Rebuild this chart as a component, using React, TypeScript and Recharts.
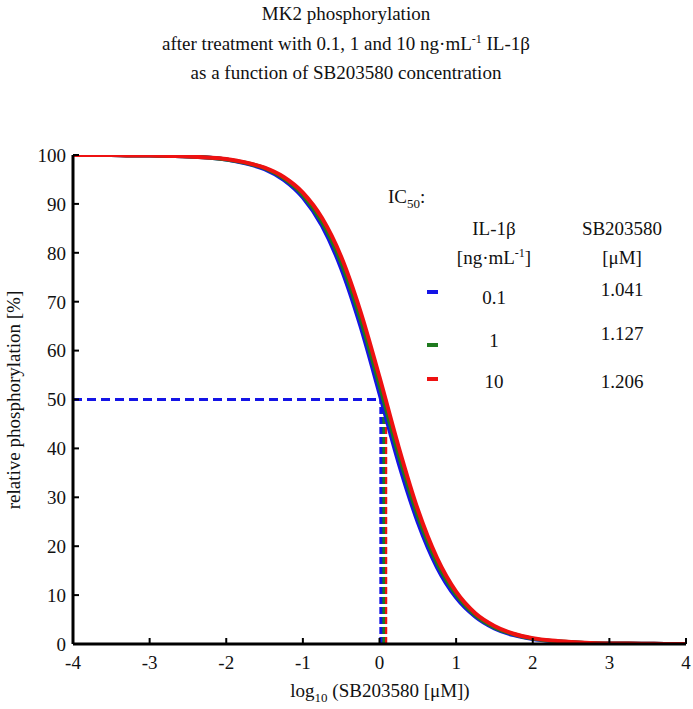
import React from 'react';
import { LineChart, Line, XAxis, YAxis } from 'recharts';

// ---- data ----
const logConc = [-4, -3.75, -3.5, -3.25, -3, -2.75, -2.5, -2.25, -2, -1.75, -1.5, -1.25, -1, -0.75, -0.5, -0.25, 0, 0.25, 0.5, 0.75, 1, 1.25, 1.5, 1.75, 2, 2.25, 2.5, 2.75, 3, 3.25, 3.5, 3.75, 4];
const phosBlue = [100, 100, 100, 99.9, 99.9, 99.8, 99.7, 99.5, 99.1, 98.3, 97.1, 94.9, 91.3, 85.5, 76.8, 65.1, 51.2, 37.0, 24.9, 15.7, 9.5, 5.6, 3.2, 1.8, 1.0, 0.6, 0.3, 0.2, 0.1, 0.1, 0.05, 0, 0];
const phosGreen = [100, 100, 100, 99.9, 99.9, 99.8, 99.7, 99.5, 99.1, 98.4, 97.3, 95.2, 91.8, 86.3, 78.0, 66.6, 52.9, 38.7, 26.2, 16.6, 10.1, 5.9, 3.4, 2.0, 1.1, 0.6, 0.4, 0.2, 0.1, 0.1, 0.05, 0, 0];
const phosRed = [100, 100, 100, 99.9, 99.9, 99.8, 99.7, 99.5, 99.2, 98.5, 97.4, 95.5, 92.3, 87.1, 79.2, 68.1, 54.6, 40.3, 27.5, 17.6, 10.7, 6.3, 3.7, 2.1, 1.2, 0.7, 0.4, 0.2, 0.1, 0.1, 0.05, 0, 0];

const il1bLabels = ['0.1', '1', '10'];
const ic50Values = [1.041, 1.127, 1.206];
const seriesColors = ['#1414e6', '#1f7a1f', '#ee1111'];

const xTicks = [-4, -3, -2, -1, 0, 1, 2, 3, 4];
const yTicks = [0, 10, 20, 30, 40, 50, 60, 70, 80, 90, 100];

const table = logConc.map((x, i) => ({ x, blue: phosBlue[i], green: phosGreen[i], red: phosRed[i] }));
const ic50Log = ic50Values.map((v) => Math.log10(v));

const FONT = '"Liberation Serif", "Times New Roman", serif';
const FS = 19;

const YTick = (props: any) => {
  const { x, y, payload } = props;
  return (
    <g>
      <line x1={x} y1={y} x2={x + 6} y2={y} stroke="#000" strokeWidth={2} />
      <text x={x - 7} y={y} dy="0.36em" textAnchor="end" fontFamily={FONT} fontSize={FS} fill="#111">{payload.value}</text>
    </g>
  );
};
const XTick = (props: any) => {
  const { x, y, payload } = props;
  return (
    <g>
      <line x1={x} y1={y} x2={x} y2={y - 6} stroke="#000" strokeWidth={2} />
      <text x={x} y={y + 25} textAnchor="middle" fontFamily={FONT} fontSize={FS} fill="#111">{payload.value}</text>
    </g>
  );
};
const TopTick = (props: any) => {
  const { x, y } = props;
  return <line x1={x} y1={y} x2={x} y2={y + 5} stroke="#000" strokeWidth={2} />;
};
const RightTick = (props: any) => {
  const { x, y } = props;
  return <line x1={x} y1={y} x2={x - 5} y2={y} stroke="#000" strokeWidth={2} />;
};

export default function App() {
  const W = 693;
  const H = 709;
  const rowY = [289, 333, 381];
  const labY = [297, 340, 381];
  const dashY = [292, 345, 379];
  return (
    <div style={{ position: 'absolute', left: 0, top: 0, width: W, height: H, background: '#fff' }}>
      <LineChart width={W} height={H} data={table} margin={{ top: 155, right: 7, bottom: 35, left: 33 }}>
        <XAxis dataKey="x" type="number" domain={[-4, 4]} ticks={xTicks} interval={0} allowDataOverflow
          tickSize={0} tickMargin={0} height={30} axisLine={{ stroke: '#000', strokeWidth: 3 }} tick={<XTick />} tickLine={false} />
        <XAxis xAxisId="top" orientation="top" type="number" domain={[-4, 4]} ticks={xTicks} interval={0} allowDataOverflow
          tickSize={0} tickMargin={0} height={0} axisLine={{ stroke: '#000', strokeWidth: 2 }} tick={<TopTick />} tickLine={false} />
        <YAxis type="number" domain={[0, 100]} ticks={yTicks} interval={0} allowDataOverflow
          tickSize={0} tickMargin={0} width={40} axisLine={{ stroke: '#000', strokeWidth: 3 }} tick={<YTick />} tickLine={false} />
        <YAxis yAxisId="right" orientation="right" type="number" domain={[0, 100]} ticks={yTicks} interval={0} allowDataOverflow
          tickSize={0} tickMargin={0} width={0} axisLine={{ stroke: '#000', strokeWidth: 2 }} tick={<RightTick />} tickLine={false} />

        {[2, 1, 0].map((i) => (
          <Line key={'v' + i} data={[{ x: ic50Log[i], y: 0 }, { x: ic50Log[i], y: 50 }]} dataKey="y" type="linear"
            stroke={seriesColors[i]} strokeWidth={3} strokeDasharray="7 3" dot={false} isAnimationActive={false} />
        ))}
        {[2, 1, 0].map((i) => (
          <Line key={'h' + i} data={[{ x: -4, y: 50 }, { x: ic50Log[i], y: 50 }]} dataKey="y" type="linear"
            stroke={seriesColors[i]} strokeWidth={3} strokeDasharray="9 5" dot={false} isAnimationActive={false} />
        ))}

        <Line dataKey="blue" type="monotone" stroke={seriesColors[0]} strokeWidth={4} dot={false} isAnimationActive={false} />
        <Line dataKey="green" type="monotone" stroke={seriesColors[1]} strokeWidth={4} dot={false} isAnimationActive={false} />
        <Line dataKey="red" type="monotone" stroke={seriesColors[2]} strokeWidth={4} dot={false} isAnimationActive={false} />
      </LineChart>

      <svg width={W} height={H} style={{ position: 'absolute', left: 0, top: 0, pointerEvents: 'none' }}>
        <g fontFamily={FONT} fontSize={FS} fill="#111">
          <text x={346} y={20} textAnchor="middle">MK2 phosphorylation</text>
          <text x={346} y={50} textAnchor="middle">
            after treatment with 0.1, 1 and 10 ng·mL<tspan dy={-7} fontSize={12}>-1</tspan><tspan dy={7}> IL-1β</tspan>
          </text>
          <text x={346} y={79} textAnchor="middle">as a function of SB203580 concentration</text>

          <text x={380} y={697} textAnchor="middle">
            log<tspan dy={5} fontSize={13}>10</tspan><tspan dy={-5}> (SB203580 [μM])</tspan>
          </text>
          <text transform="translate(20,400) rotate(-90)" textAnchor="middle">relative phosphorylation [%]</text>

          <text x={388} y={203}>IC<tspan dy={5} fontSize={13}>50</tspan><tspan dy={-5}>:</tspan></text>
          <text x={494} y={235} textAnchor="middle">IL-1β</text>
          <text x={494} y={264} textAnchor="middle">[ng·mL<tspan dy={-7} fontSize={12}>-1</tspan><tspan dy={7}>]</tspan></text>
          <text x={622} y={235} textAnchor="middle">SB203580</text>
          <text x={622} y={264} textAnchor="middle">[μM]</text>
          {il1bLabels.map((lab, i) => (
            <g key={lab}>
              <line x1={427} x2={438} y1={dashY[i]} y2={dashY[i]} stroke={seriesColors[i]} strokeWidth={4} />
              <text x={494} y={labY[i] + 7} textAnchor="middle">{lab}</text>
              <text x={622} y={rowY[i] + 7} textAnchor="middle">{ic50Values[i].toFixed(3)}</text>
            </g>
          ))}
        </g>
      </svg>
    </div>
  );
}
